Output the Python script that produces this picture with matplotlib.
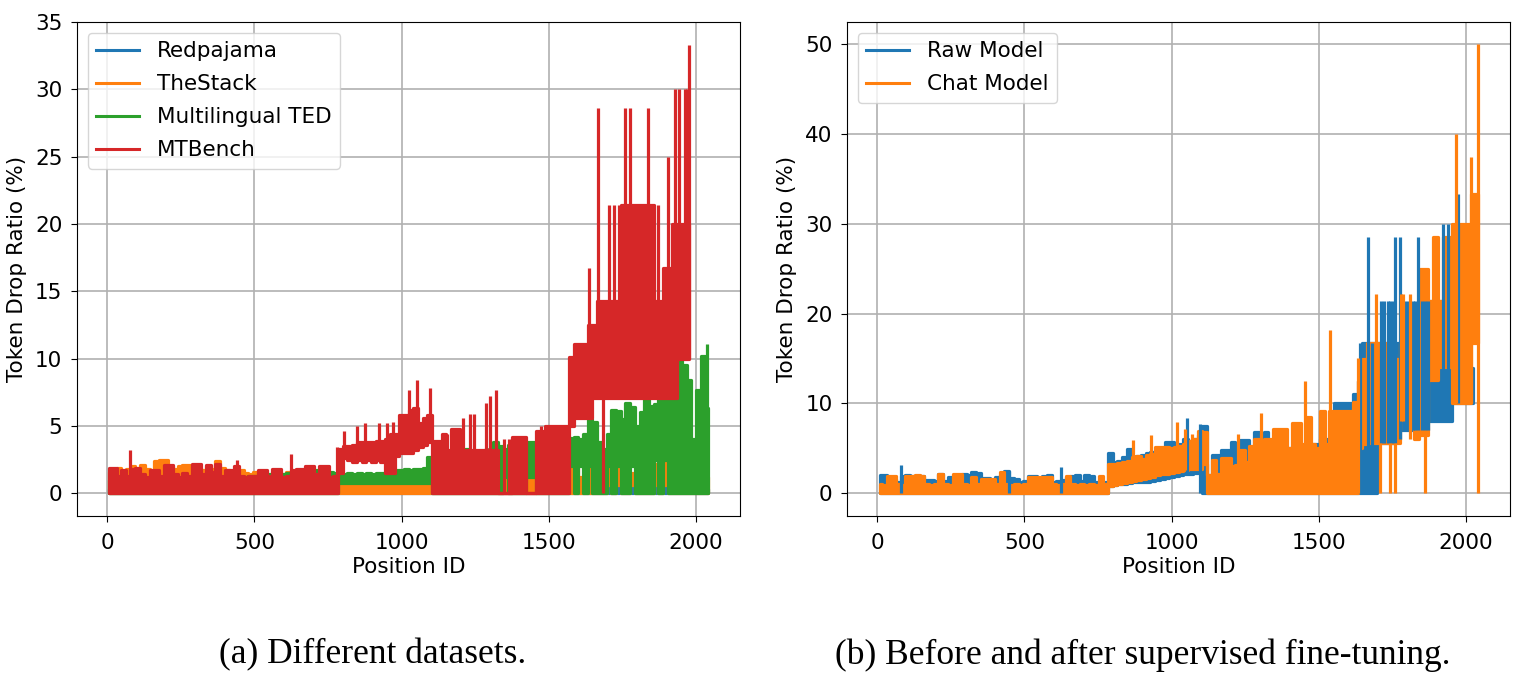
import numpy as np
import matplotlib
matplotlib.use("Agg")
import matplotlib.pyplot as plt
from matplotlib.lines import Line2D

nan = np.nan

# position IDs, one value per bin of 16 positions (bin centres)
pos = np.arange(8, 2048, 16)

# ---------------- (a) different datasets: upper / lower edge of each series per bin
mtbench_hi = [1.9, 1.9, 1.3, 1.7, 1.3, 1.8, 1.9, 1.4, 1.2, 1.7, 1.7, 1.3, 2.1, 2.1, 1.4, 1.2,
              1.5, 1.3, 2.2, 2.2, 1.4, 2.1, 1.6, 2.2, 1.3, 1.7, 1.7, 2.0, 1.3, 1.2, 1.3, 1.3,
              1.7, 1.7, 1.3, 1.8, 1.8, 1.2, 1.3, 1.7, 1.8, 1.8, 2.0, 2.0, 1.4, 2.0, 2.0, 1.2,
              1.3, 3.3, 3.5, 3.5, 3.6, 3.8, 3.8, 3.8, 3.8, 3.9, 3.9, 4.0, 4.4, 4.4, 5.8, 5.8,
              6.2, 6.3, 5.2, 5.6, 5.8, 3.9, 3.9, 4.4, 3.2, 4.8, 4.8, 3.2, 3.2, 3.2, 3.2, 3.2,
              3.2, 3.2, 3.2, 0.0, 0.0, 0.0, 4.2, 4.2, 4.2, 0.0, 0.0, 4.6, 4.6, 5.0, 5.0, 5.0,
              5.0, 5.0, 10.1, 11.1, 11.1, 11.1, 12.5, 12.5, 14.3, 14.3, 14.3, 14.3, 14.3, 21.4, 21.4, 21.4,
              21.4, 21.4, 21.4, 21.4, 14.3, 14.3, 16.7, 16.7, 20.0, 20.0, 20.0, 20.0, nan, nan, nan, nan]
mtbench_lo = ([0.0] * 49 +
              [1.5, 2.6, 2.5, 2.3, 2.5, 2.3, 2.5, 2.3, 2.5, 2.3, 1.5, 1.5, 2.8, 3.0, 3.0,
               3.0, 3.2, 3.4, 3.6, 3.8] +
              [0.0] * 29 +
              [5.0, 5.6, 5.6, 5.6, 5.6] + [7.1] * 18 + [10.0, 10.0, 10.0, nan, nan, nan, nan])

ted_hi = ([1.0] * 29 +
          [1.2, 1.3, 1.3, 1.2, 1.3, 1.4, 1.2, 1.3, 1.4, 1.5, 1.4, 1.6, 1.7, 1.8, 1.6, 1.7,
           1.5, 1.6, 1.6, 1.5] +
          [1.5, 1.4, 1.5, 1.4, 1.5, 1.4, 1.5, 1.4, 1.5, 1.5, 1.6, 1.6, 1.7, 1.7, 1.8, 1.7,
           1.8, 1.8, 1.9, 2.7] +
          [2.0, 2.2, 2.4, 2.8, 2.6, 2.8, 3.0, 3.3, 2.9, 3.0, 3.1, 3.2, 3.3, 3.8] +
          [3.5, 3.3, 3.6, 3.2, 3.4, 3.1, 3.8, 3.8, 3.4, 3.6, 3.5, 3.3, 3.6, 3.7, 4.0] +
          [4.1, 4.2, 4.0, 4.4, 5.5, 5.3, 3.8, 3.3, 4.4, 6.2, 6.1, 5.5, 6.7, 6.4, 5.0, 6.0,
           7.1, 6.5, 6.6, 7.2, 7.0, 8.2, 8.5, 9.9, 9.5, 8.4, 4.0, 7.7, 10.2, 6.3])
ted_lo = ([0.0] * 49 + [0.8] * 20 + [0.0] * 14 +
          [0, 1.2, 0, 0, 0, 0, 1.2, 1.2, 0, 0, 0, 0, 0, 0, 0] +
          [2.0, 0, 2.0, 0, 2.0, 0, 0, 0, 2.0, 0, 2.0, 0, 0, 2.0, 0, 0,
           0, 0, 2.5, 0, 2.5, 0, 0, 0, 0, 0, 0, 0, 0, 0])

stack_hi = ([1.6, 1.7, 1.9, 1.5, 1.8, 2.0, 1.7, 2.1, 1.8, 1.6, 2.4, 2.5, 2.5, 2.0, 1.8, 2.0,
             2.1, 2.1, 1.8, 1.9, 1.7, 2.0, 1.8, 2.4, 1.9, 1.7, 1.6, 1.8, 1.7, 1.5, 1.4, 1.6,
             1.5, 1.4, 1.3, 1.6, 1.4, 1.4, 1.6, 1.3, 1.3, 1.2, 1.3, 1.2, 1.3, 1.2, 1.3, 1.2,
             1.2] +
            [0.7, 0.8, 0.7, 0.8, 0.7, 0.8, 0.7, 0.8, 0.7, 0.8, 0.7, 0.8, 0.8, 0.7, 0.8, 0.7,
             0.8, 0.7, 0.8, 0.8] +
            [0.8] * 14 +
            [1.2, 1.1, 1.2, 1.0, 1.1, 1.2, 1.3, 1.2, 1.1, 1.2, 1.0, 1.1, 1.2, 1.1, 1.3] +
            [2.0, 1.9, 1.2, 1.3, 2.0, 2.1, 1.8, 1.2, 2.7, 2.0, 2.5, 2.6, 1.4, 1.5, 1.3, 2.0,
             2.9, 1.6, 2.2, 3.4, 3.0, 2.4, 2.0, 1.6, 2.0, 1.5, 1.2, 1.4, 1.3, 1.2])
stack_lo = ([0.0] * 106 + [0.6, 0, 0.6, 0, 0, 0.6, 0, 0, 0, 0, 0.6, 0, 0.6] + [0.0] * 9)

redpajama_hi = [0.3] * 105 + [0.6] * 16 + [0.3] * 7
redpajama_lo = [0.0] * 128

# single narrow strokes (position, bottom, top)
mtbench_sx = [78, 441, 625, 781, 803, 849, 877, 922, 951, 971, 1024, 1053, 1096, 1155, 1209,
              1234, 1247, 1288, 1300, 1322, 1348, 1365, 1472, 1637, 1668, 1683, 1706, 1722,
              1738, 1759, 1777, 1837, 1872, 1904, 1927, 1941, 1963, 1970, 1976]
mtbench_slo = [0, 0, 0, 0, 2.6, 2.5, 2.5, 2.5, 1.5, 1.5, 3.0, 3.2, 3.8, 0, 0,
               0, 0, 0, 0, 0, 0, 0, 0, 5.6, 7.1, 0, 7.1, 7.1,
               7.1, 7.1, 7.1, 7.1, 7.1, 7.1, 7.1, 10.0, 10.0, 10.0, 10.0]
mtbench_shi = [3.2, 2.5, 2.9, 3.4, 4.6, 5.0, 5.2, 5.2, 5.2, 5.3, 7.7, 8.4, 7.8, 4.4, 5.6,
               5.9, 5.9, 6.7, 7.2, 7.7, 4.0, 4.0, 5.0, 16.7, 28.6, 7.1, 21.4, 21.4,
               21.4, 28.6, 28.6, 28.6, 21.4, 25.0, 30.0, 30.0, 30.0, 30.0, 33.3]
ted_sx = [2036]
ted_slo = [0]
ted_shi = [11.1]

# ---------------- (b) before / after supervised fine-tuning
raw_hi = ([2.0, 2.0, 1.4, 1.6, 1.3, 1.9, 2.0, 1.9, 1.4, 1.9, 1.5, 1.5, 1.4, 2.1, 1.4, 1.8,
           1.4, 1.3, 2.1, 2.0, 2.4, 2.3, 1.7, 1.7, 1.5, 1.8, 2.0, 2.5, 1.7, 1.6, 1.3, 1.4,
           1.9, 1.9, 1.3, 1.9, 2.0, 1.3, 1.4, 1.5, 1.8, 1.9, 2.0, 1.4, 2.0, 1.9, 1.3, 1.2,
           1.3] +
          [4.5, 3.5, 3.6, 4.0, 4.9, 4.0, 4.2, 4.3, 4.5, 4.6, 4.8, 5.0, 5.7, 5.7, 5.4, 5.5,
           6.0, 5.8, 6.0, 6.5] +
          [7.5, 2.0, 4.3, 4.3, 4.8, 4.8, 5.7, 3.5, 5.9, 5.9, 4.0, 6.8, 5.0, 6.8, 5.0, 4.0,
           5.0, 5.0, 5.0, 4.5, 5.0, 5.0, 5.0, 5.5, 5.5, 6.0, 6.0, 6.0, 10.1, 10.1, 10.1, 10.1,
           11.1, 12.5] +
          [16.7, 16.7, 16.7, 16.7, 16.7, 16.7, 16.7, 16.7, 16.7, 16.7, 16.7, 16.7, 16.7,
           16.7, 21.4, 21.4, 21.4, 21.4, 21.4, 14.0, 14.0, 14.0, 14.0, 14.0, nan])
raw_lo = ([0.0] * 49 +
          [0.8, 0.9, 1.0, 1.0, 1.1, 1.2, 1.2, 1.3, 1.3, 1.4, 1.5, 1.6, 1.7, 1.8, 1.9, 2.0,
           2.1, 2.2, 2.3, 2.4] +
          [0.0] * 37 +
          [5.6, 5.6, 5.6, 5.6, 6.0, 7.1, 7.1, 7.1, 7.1, 7.1, 7.1, 8.1, 8.1, 8.1, 8.1, 8.1,
           10.0, 10.0, 10.0, 10.0, 10.0, nan])

chat_hi = ([1.0, 0.9, 1.9, 1.9, 1.0, 0.9, 1.9, 1.9, 2.0, 1.9, 1.0, 0.9, 1.0, 2.1, 1.0, 0.9,
            2.1, 2.1, 1.0, 0.9, 1.8, 1.0, 1.6, 1.6, 1.6, 1.0, 2.4, 1.0, 0.9, 1.0, 0.9, 1.0,
            1.8, 1.8, 1.8, 1.8, 1.8, 1.0, 0.9, 1.0, 1.9, 1.0, 0.9, 1.0, 0.9, 1.0, 0.9, 1.9,
            1.0] +
           [3.3, 3.3, 3.4, 3.5, 3.6, 4.0, 4.2, 3.8, 4.3, 4.4, 5.1, 5.1, 5.1, 5.0, 5.2, 5.3,
            5.5, 5.8, 6.0, 6.9] +
           [6.8, 2.0, 3.7, 2.2, 3.9, 3.9, 3.0, 3.2, 4.8, 3.5, 5.3, 6.0, 4.5, 6.1, 6.1, 7.2,
            7.2, 7.2, 5.0, 7.8, 7.8, 5.5, 8.5, 5.5, 5.0, 9.2, 5.5, 9.2, 9.2, 9.2, 9.2, 9.2,
            10.2, 12.5] +
           [15.0, 16.7, 16.7, 16.7, 16.7, 16.7, 15.5, 15.0, 16.7, 16.7, 16.7, 16.7, 25.0,
            25.0, 21.4, 28.6, 21.4, 28.6, 28.6, 30.0, 30.0, 30.0, 30.0, 33.3, 33.3])
chat_lo = ([0.0] * 49 +
           [0.8, 0.9, 1.0, 1.1, 1.2, 1.4, 1.5, 1.6, 1.7, 1.8, 2.0, 2.1, 2.2, 2.3, 2.4, 2.5,
            2.6, 2.7, 2.7, 2.75] +
           [3.3] + [0.0] * 32 + [5.0] +
           [5.5, 5.6, 5.6, 5.6, 5.6, 5.6, 5.6, 5.6, 11.1, 8.0, 11.1, 6.0, 6.5, 6.5, 12.6, 12.6,
            14.1, 14.1, 14.1, 10.0, 10.0, 10.0, 10.0, 16.7, 16.7])

raw_sx = [80, 446, 624, 1051, 1097, 1640, 1668, 1682, 1710, 1721, 1733, 1740, 1750, 1759,
          1776, 1793, 1804, 1818, 1827, 1838, 1850, 1861, 1872, 1923, 1940, 1974]
raw_slo = [0, 0, 0, 2.1, 0, 0, 0, 0, 5.6, 5.6, 5.6, 5.6, 5.6, 5.6,
           6.0, 7.1, 7.1, 7.1, 7.1, 7.1, 7.1, 7.1, 7.1, 8.1, 8.1, 10.0]
raw_shi = [3.2, 2.5, 2.9, 8.4, 7.7, 16.7, 28.6, 16.7, 21.4, 21.4, 21.4, 21.4, 21.4, 28.6,
           28.6, 21.4, 21.4, 21.4, 21.4, 28.6, 21.4, 21.4, 21.4, 30.0, 30.0, 33.3]
chat_sx = [870, 929, 1018, 1045, 1068, 1224, 1305, 1452, 1537, 1634, 1693, 1708, 1742, 1759,
           1778, 1786, 1808, 1861, 1965, 2016, 2040]
chat_slo = [1.2, 1.7, 2.4, 2.6, 2.7, 0, 0, 0, 0, 0, 5.6, 0, 0, 0,
            8.0, 8.0, 6.0, 0, 10.0, 10.0, 0]
chat_shi = [5.9, 6.5, 7.9, 7.2, 6.6, 6.6, 8.9, 12.5, 18.2, 15.1, 22.2, 5.6, 5.6, 5.6,
            22.2, 22.2, 22.2, 6.5, 40.0, 37.5, 50.0]

plt.rcParams['font.family'] = ['DejaVu Sans']
plt.rcParams['font.size'] = 15.5
plt.rcParams['xtick.major.pad'] = 8
plt.rcParams['ytick.major.pad'] = 6
plt.rcParams['xtick.major.size'] = 4.5
plt.rcParams['ytick.major.size'] = 4.5

fig = plt.figure(figsize=(15.18, 6.75), dpi=100)
ax1 = fig.add_axes([0.0507, 0.2360, 0.4368, 0.7314])
ax2 = fig.add_axes([0.5580, 0.2360, 0.4368, 0.7314])

LW = 2.3


def draw(ax, hi, lo, sx, slo, shi, color):
    ax.fill_between(pos, np.array(lo, float), np.array(hi, float), step='mid',
                    color=color, lw=LW)
    if sx:
        ax.vlines(sx, slo, shi, color=color, lw=LW)


draw(ax1, redpajama_hi, redpajama_lo, [], [], [], 'tab:blue')
draw(ax1, stack_hi, stack_lo, [], [], [], 'tab:orange')
draw(ax1, ted_hi, ted_lo, ted_sx, ted_slo, ted_shi, 'tab:green')
draw(ax1, mtbench_hi, mtbench_lo, mtbench_sx, mtbench_slo, mtbench_shi, 'tab:red')

draw(ax2, raw_hi, raw_lo, raw_sx, raw_slo, raw_shi, 'tab:blue')
draw(ax2, chat_hi, chat_lo, chat_sx, chat_slo, chat_shi, 'tab:orange')

names1 = ['Redpajama', 'TheStack', 'Multilingual TED', 'MTBench']
colors1 = ['tab:blue', 'tab:orange', 'tab:green', 'tab:red']
names2 = ['Raw Model', 'Chat Model']
colors2 = ['tab:blue', 'tab:orange']

for ax, names, cols, ytop in [(ax1, names1, colors1, 33.3), (ax2, names2, colors2, 50.0)]:
    ax.set_xlim(-102.35, 2149.35)
    ax.set_ylim(-0.05 * ytop, 1.05 * ytop)
    ax.set_axisbelow(True)
    ax.grid(True, color='#b0b0b0', lw=1.2)
    ax.set_xlabel('Position ID', labelpad=3)
    ax.set_ylabel('Token Drop Ratio (%)', labelpad=6)
    handles = [Line2D([], [], color=c, lw=2.2) for c in cols]
    ax.legend(handles, names, loc='upper left', labelspacing=0.6)

ax1.set_yticks([0, 5, 10, 15, 20, 25, 30, 35])
ax2.set_yticks([0, 10, 20, 30, 40, 50])

fig.text(372.5 / 1518, 1 - 655 / 675, '(a) Different datasets.', ha='center', va='center',
         family='Liberation Serif', fontsize=25.5)
fig.text(1143 / 1518, 1 - 655 / 675, '(b) Before and after supervised fine-tuning.',
         ha='center', va='center', family='Liberation Serif', fontsize=25.5)

fig.savefig('out.png', dpi=100)
